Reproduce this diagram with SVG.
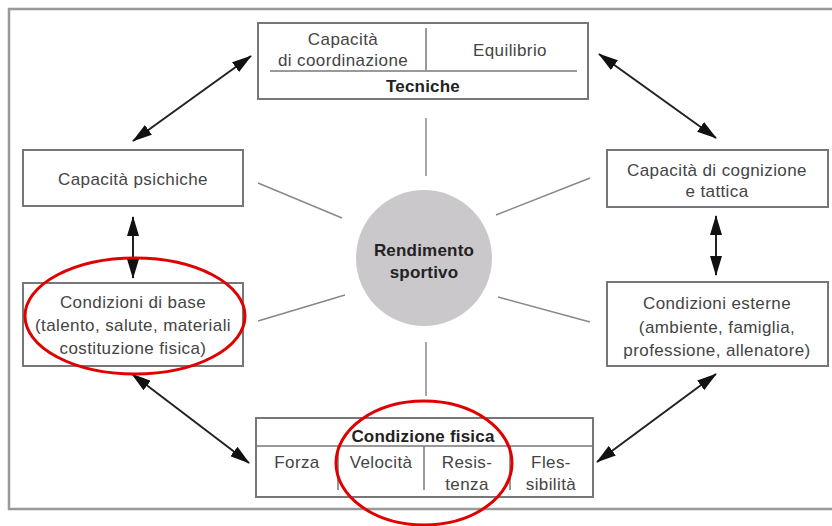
<svg xmlns="http://www.w3.org/2000/svg" width="832" height="526" viewBox="0 0 832 526">
<defs>
<marker id="ah" viewBox="0 0 20 12" refX="19" refY="6" markerWidth="10" markerHeight="6" orient="auto-start-reverse"><path d="M0,0 L20,6 L0,12 z" fill="#111"/></marker>
<style>
.box{fill:#fff;stroke:#777;stroke-width:2}
.div{stroke:#777;stroke-width:1.5;fill:none}
.t{font-family:"Liberation Sans",Arial,sans-serif;font-size:17px;letter-spacing:0.4px;fill:#444;text-anchor:middle}
.b{font-weight:bold;fill:#222;letter-spacing:0.2px}
.spoke{stroke:#888;stroke-width:1.5}
.arr{stroke:#222;stroke-width:2;marker-start:url(#ah);marker-end:url(#ah)}
.red{fill:none;stroke:#e00000;stroke-width:3}
</style>
</defs>
<rect width="832" height="526" fill="#fff"/>
<path d="M840,9 H9 V509 H840" fill="none" stroke="#999" stroke-width="2.5"/>
<g id="connectors">
<line class="spoke" x1="426" y1="118" x2="426" y2="176"/>
<line class="spoke" x1="426" y1="342" x2="426" y2="396"/>
<line class="spoke" x1="258" y1="183" x2="342" y2="218"/>
<line class="spoke" x1="258" y1="321" x2="345" y2="295"/>
<line class="spoke" x1="496" y1="215" x2="590" y2="178"/>
<line class="spoke" x1="498" y1="297" x2="590" y2="322"/>
<line class="arr" x1="133" y1="141" x2="251" y2="56"/>
<line class="arr" x1="599" y1="54" x2="716" y2="138"/>
<line class="arr" x1="133" y1="217" x2="133" y2="278"/>
<line class="arr" x1="716" y1="216" x2="716" y2="275"/>
<line class="arr" x1="132" y1="374" x2="249" y2="463"/>
<line class="arr" x1="597" y1="462" x2="716" y2="374"/>
</g>
<g id="tecniche">
<rect class="box" x="258" y="23" width="330" height="76"/>
<line class="div" x1="426" y1="28" x2="426" y2="70"/>
<line class="div" x1="270" y1="71" x2="577" y2="71"/>
<text class="t" x="343" y="45">Capacità</text>
<text class="t" x="343" y="66">di coordinazione</text>
<text class="t" x="510" y="56">Equilibrio</text>
<text class="t b" x="423" y="92">Tecniche</text>
</g>
<g id="psichiche">
<rect class="box" x="23" y="150" width="220" height="56"/>
<text class="t" x="133" y="185">Capacità psichiche</text>
</g>
<g id="cognizione">
<rect class="box" x="607" y="150" width="221" height="57"/>
<text class="t" x="717" y="176">Capacità di cognizione</text>
<text class="t" x="717" y="197">e tattica</text>
</g>
<g id="base">
<rect class="box" x="23" y="283" width="220" height="83"/>
<text class="t" x="133" y="308">Condizioni di base</text>
<text class="t" x="133" y="331">(talento, salute, materiali</text>
<text class="t" x="133" y="354">costituzione fisica)</text>
</g>
<g id="esterne">
<rect class="box" x="607" y="282" width="221" height="84"/>
<text class="t" x="717" y="309">Condizioni esterne</text>
<text class="t" x="717" y="333">(ambiente, famiglia,</text>
<text class="t" x="717" y="356">professione, allenatore)</text>
</g>
<g id="rendimento">
<circle cx="424" cy="258" r="68" fill="#cbc8cc"/>
<text class="t b" x="424" y="256">Rendimento</text>
<text class="t b" x="424" y="278">sportivo</text>
</g>
<g id="fisica">
<rect class="box" x="256" y="418" width="337" height="79"/>
<line class="div" x1="256" y1="446" x2="593" y2="446"/>
<line class="div" x1="338" y1="446" x2="338" y2="490"/>
<line class="div" x1="424" y1="446" x2="424" y2="490"/>
<line class="div" x1="510" y1="446" x2="510" y2="490"/>
<text class="t b" x="423" y="442">Condizione fisica</text>
<text class="t" x="297" y="468">Forza</text>
<text class="t" x="381" y="468">Velocità</text>
<text class="t" x="467" y="468">Resis-</text>
<text class="t" x="467" y="490">tenza</text>
<text class="t" x="551" y="468">Fles-</text>
<text class="t" x="551" y="490">sibilità</text>
</g>
<g id="highlights">
<ellipse class="red" cx="135" cy="316" rx="110" ry="58"/>
<ellipse class="red" cx="424" cy="463" rx="88" ry="62"/>
</g>
</svg>
